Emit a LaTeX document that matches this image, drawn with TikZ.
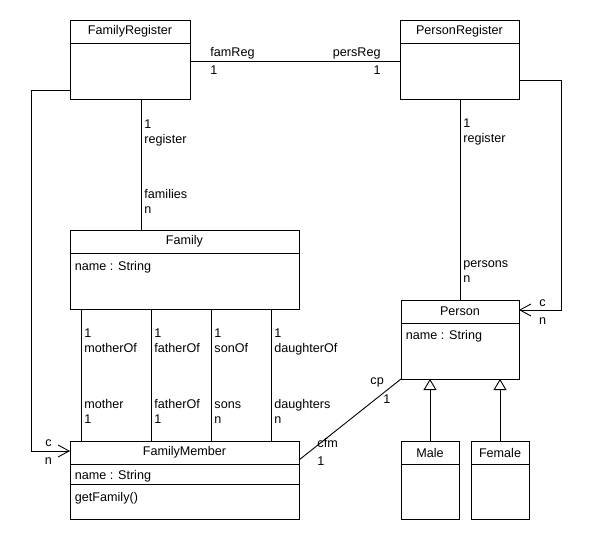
\documentclass[tikz,border=0pt]{standalone}
\usepackage{fontspec}
\setmainfont{Liberation Sans}
\usetikzlibrary{arrows.meta,calc}

\newcommand{\umlfont}{\fontsize{12.6bp}{14bp}\selectfont}
% class box: name, title, x, y, width, height
\newcommand{\umlclass}[6]{%
  \node[classbox, minimum width=#5bp, minimum height=#6bp] (#1) at (#3,#4) {};
  \node[classname] (#1-title) at ($(#1.north)+(0,11.5)$) {#2};
  \draw ($(#1.north west)+(0,23)$) -- ($(#1.north east)+(0,23)$);
}

\begin{document}
\begin{tikzpicture}[x=1bp, y=-1bp, font=\umlfont, line width=0.9bp]
    \tikzset{
      classbox/.style={draw, rectangle, anchor=north west, inner sep=0pt, outer sep=0pt},
      classname/.style={inner sep=0pt},
      lbl/.style={anchor=base west, inner sep=0pt},
      lblr/.style={anchor=base east, inner sep=0pt},
      lblc/.style={anchor=base, inner sep=0pt},
      navarrow/.style={-{Straight Barb[length=11bp, width=12bp]}},
      inherit/.style={-{Triangle[open, length=11bp, width=13bp]}}
    }
    \fill[white] (0,0) rectangle (600,540);
    \useasboundingbox (0,0) rectangle (600,540);

    \umlclass{famreg}{FamilyRegister}{70}{20}{120}{79}
    \umlclass{persreg}{PersonRegister}{400}{20}{119}{79}
    \umlclass{family}{Family}{70}{230}{229}{79}
    \umlclass{member}{FamilyMember}{70}{441}{229}{78}
    \umlclass{person}{Person}{401}{300}{118}{79}
    \umlclass{male}{Male}{401}{441}{58}{78}
    \umlclass{female}{Female}{471}{441}{58}{78}

    \node[lbl] (family-attr) at (74.5,270) {name : String};
    \node[lbl] (person-attr) at (405.5,339) {name : String};
    \node[lbl] (member-attr) at (74.5,479) {name : String};
    \draw ($(member.north west)+(0,43)$) -- ($(member.north east)+(0,43)$);
    \node[lbl] (member-op) at (74.5,501) {getFamily()};

    % famReg -- persReg
    \draw ($(famreg.north east)+(0,41)$) -- ($(persreg.north west)+(0,41)$);
    \node[lbl] at (210,57) {famReg};
    \node[lbl] at (210,75) {1};
    \node[lblr] at (381,57) {persReg};
    \node[lblr] at (381,75) {1};

    % register -- families
    \coordinate (famcol) at (141,0);
    \draw (famcol |- famreg.south) -- (famcol |- family.north);
    \node[lbl] at (144,129) {1};
    \node[lbl] at (144,144) {register};
    \node[lbl] at (144,199) {families};
    \node[lbl] at (144,214) {n};

    % register -- persons
    \coordinate (perscol) at (460,0);
    \draw (perscol |- persreg.south) -- (perscol |- person.north);
    \node[lbl] at (463,128) {1};
    \node[lbl] at (463,143) {register};
    \node[lbl] at (463,267) {persons};
    \node[lbl] at (463,282) {n};

    % Family -- FamilyMember
    \coordinate (col1) at (81,0);
    \coordinate (col2) at (151,0);
    \coordinate (col3) at (211,0);
    \coordinate (col4) at (271,0);
    \draw (col1 |- family.south) -- (col1 |- member.north);
    \draw (col2 |- family.south) -- (col2 |- member.north);
    \draw (col3 |- family.south) -- (col3 |- member.north);
    \draw (col4 |- family.south) -- (col4 |- member.north);
    \node[lbl] at (84,337) {1};
    \node[lbl] at (84,352) {motherOf};
    \node[lbl] at (84,408) {mother};
    \node[lbl] at (84,423) {1};
    \node[lbl] at (154,337) {1};
    \node[lbl] at (154,352) {fatherOf};
    \node[lbl] at (154,408) {fatherOf};
    \node[lbl] at (154,423) {1};
    \node[lbl] at (214,337) {1};
    \node[lbl] at (214,352) {sonOf};
    \node[lbl] at (214,408) {sons};
    \node[lbl] at (214,423) {n};
    \node[lbl] at (274,337) {1};
    \node[lbl] at (274,352) {daughterOf};
    \node[lbl] at (274,408) {daughters};
    \node[lbl] at (274,423) {n};

    % self loops
    \coordinate (loopl) at (31,90);
    \draw[navarrow] (loopl -| famreg.west) -- (loopl) |- ($(member.north west)+(0,10)$);
    \node[lblc] at (48.5,446) {c};
    \node[lblc] at (48.5,464) {n};
    \coordinate (loopr) at (561,80);
    \draw[navarrow] (loopr -| persreg.east) -- (loopr) |- ($(person.north east)+(0,10)$);
    \node[lblc] at (542.5,306) {c};
    \node[lblc] at (542.5,324) {n};

    % FamilyMember -- Person
    \draw ($(member.north east)+(0,19)$) -- (person.south west);
    \node[lbl] at (370,384) {cp};
    \node[lbl] at (383,403) {1};
    \node[lbl] at (317,447) {cfm};
    \node[lbl] at (317,465) {1};

    % generalisation
    \draw[inherit] (male.north) -- (male.north |- person.south);
    \draw[inherit] (female.north) -- (female.north |- person.south);
\end{tikzpicture}
\end{document}
